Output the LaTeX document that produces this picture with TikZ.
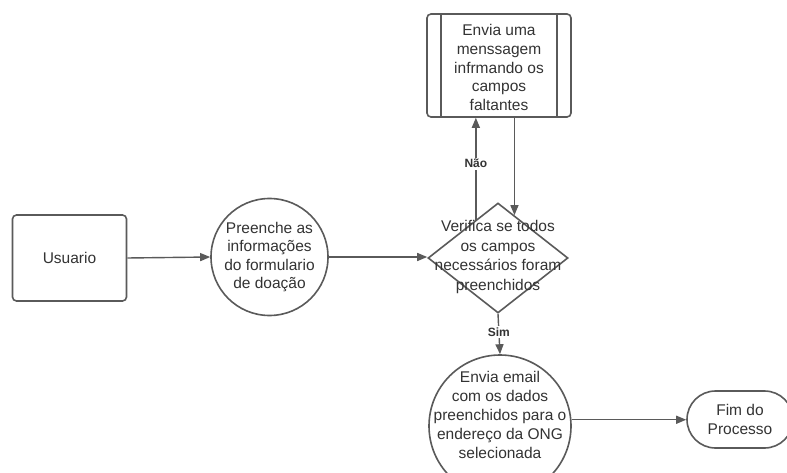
\documentclass[tikz,border=0pt]{standalone}
\usepackage{fontspec}
\setmainfont{Liberation Sans}
\usetikzlibrary{shapes.geometric,shapes.misc,arrows.meta}
\definecolor{ln}{HTML}{5A5A5A}
\definecolor{tx}{HTML}{333333}
\begin{document}
\begin{tikzpicture}[x=1pt,y=-1pt,
  base/.style={draw=ln,line width=1.6pt,fill=white,text=tx,align=center,
    font=\fontsize{15.5}{18.5}\selectfont,inner sep=0pt},
  boxr/.style={base,rectangle,rounded corners=4pt},
  circ/.style={base,circle},
  arr/.style={draw=ln,line width=1.4pt,-{Triangle[length=10pt,width=8pt]}},
  lbl/.style={fill=white,text=tx,font=\fontsize{12}{14}\selectfont\bfseries,inner sep=1.5pt}]
\useasboundingbox (0,0) rectangle (787,473);
\clip (0,0) rectangle (787,473);
\fill[white] (0,0) rectangle (787,473);

\node[boxr,minimum width=114pt,minimum height=86pt] (usuario) at (69.5,258) {Usuario};
\node[circ,minimum size=117pt] (c1) at (269.5,257) {Preenche as\\informações\\do formulario\\de doação};
\node[base,diamond,minimum width=140pt,minimum height=110pt] (dia) at (498,258) {};
\node[text=tx,align=center,font=\fontsize{15.5}{19.5}\selectfont,inner sep=0pt] (diat) at (498,257) {Verifica se todos\\os campos\\necessários foram\\preenchidos};
\node[boxr,minimum width=144pt,minimum height=103pt] (msg) at (499,65.5) {};
\draw[ln,line width=1.6pt] ([xshift=15pt]msg.north west) -- ([xshift=15pt]msg.south west);
\draw[ln,line width=1.6pt] ([xshift=-15pt]msg.north east) -- ([xshift=-15pt]msg.south east);
\node[text=tx,align=center,font=\fontsize{15.5}{18.7}\selectfont,inner sep=0pt] (msgt) at (499,67.5) {Envia uma\\menssagem\\infrmando os\\campos\\faltantes};
\node[circ,minimum size=142pt] (c2) at (500,426) {};
\node[text=tx,align=center,font=\fontsize{15.5}{19}\selectfont,inner sep=0pt] (c2t) at (500,415) {Envia email\\com os dados\\preenchidos para o\\endereço da ONG\\selecionada};
\node[base,rounded rectangle,minimum width=106pt,minimum height=57pt] (fim) at (740,419.5) {Fim do\\Processo};

\draw[arr] (usuario.east) -- (c1.west);
\draw[arr] (c1.east) -- (dia.west |- c1.east);
\draw[arr] (dia.120) -- (dia.120 |- msg.south) node[lbl,pos=0.55] {Não};
\draw[arr] (dia.69 |- msg.south) -- (dia.69);
\draw[arr] (dia.south) -- (c2.north) node[lbl,pos=0.45] {Sim};
\draw[arr] (c2.5) -- (c2.5 -| fim.west);
\end{tikzpicture}
\end{document}
